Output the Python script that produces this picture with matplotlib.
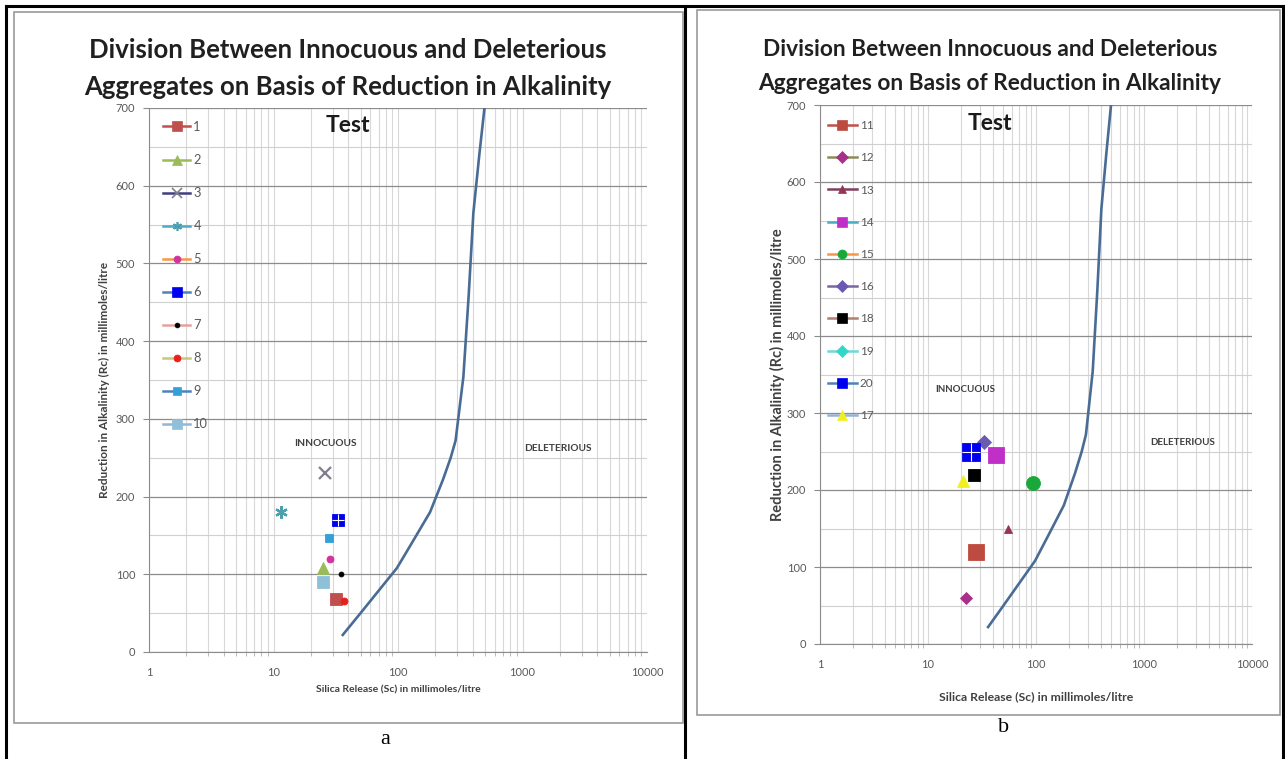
import matplotlib
matplotlib.use("Agg")
import matplotlib.pyplot as plt
from matplotlib.lines import Line2D
from matplotlib.patches import Rectangle
from matplotlib.ticker import MultipleLocator, LogLocator, NullFormatter

plt.rcParams['font.family'] = ['Lato', 'DejaVu Sans']

W, H = 1285, 759

# boundary curve (same in both panels)
curve_sc = [36, 50, 70, 98, 130, 181, 230, 265, 290, 310, 335, 370, 403, 450, 495]
curve_rc = [22, 50, 79, 108, 141, 180, 222, 250, 272, 310, 354, 460, 565, 640, 700]

# panel a samples
a_labels = ['1', '2', '3', '4', '5', '6', '7', '8', '9', '10']
a_sc = [[32], [25], [26], [11.5], [28.5], [33], [35], [37], [28], [25]]
a_rc = [[68], [108], [230], [180], [120], [170], [100], [65], [147], [90]]

# panel b samples (legend order as in the original)
b_labels = ['11', '12', '13', '14', '15', '16', '18', '19', '20', '17']
b_sc = [[28], [22.5], [55], [43], [93], [33], [26.5], [], [25], [21]]
b_rc = [[120], [60], [150], [245], [209], [262], [219], [], [250], [212]]

x_ticks = [1, 10, 100, 1000, 10000]
x_tick_labels = ['1', '10', '100', '1000', '10000']
y_ticks = [0, 100, 200, 300, 400, 500, 600, 700]

title_1 = 'Division Between Innocuous and Deleterious'
title_2 = 'Aggregates on Basis of Reduction in Alkalinity'
x_title = 'Silica Release (Sc) in millimoles/litre'
y_title = 'Reduction in Alkalinity (Rc) in millimoles/litre'

# (line colour, marker, marker colour, marker size)
a_styles = [
    ('#C0504D', 's', '#C0504D', 9),
    ('#9BBB59', '^', '#9BBB59', 9),
    ('#3F3F7F', 'x', '#7F7F8F', 9),
    ('#4BACC6', (6, 2, 0), '#4BA0B0', 9),
    ('#F79646', 'o', '#D2339C', 5),
    ('#4F81BD', 's', '#0000F0', 9),
    ('#E6A0A0', 'o', '#000000', 3.5),
    ('#C8C878', 'o', '#E8201A', 5),
    ('#4F81BD', 's', '#34A0D8', 6),
    ('#95B3D7', 's', '#8FC0D8', 9),
]
b_styles = [
    ('#C0504D', 's', '#BE4B40', 11),
    ('#8C8C5A', 'D', '#A8308A', 6),
    ('#7F3F5F', '^', '#953552', 6),
    ('#4BACC6', 's', '#C030C8', 11),
    ('#F79646', 'o', '#1AA83A', 10),
    ('#8064A2', 'D', '#6A5AB0', 7),
    ('#B08070', 's', '#000000', 8),
    ('#6FD8D8', 'D', '#30D8C8', 6),
    ('#4F81BD', 's', '#0000F0', 13),
    ('#95B3D7', '^', '#F0F020', 9),
]


def fx(px):
    return px / W


def fy(py):
    return 1 - py / H


def panel(fig, box, rect, cx, ty, tsize, labels, sc, rc, styles, leg_xy, leg_fs,
          leg_sp, leg_hl, test_xy, inn_xy, del_xy, tag_fs, ylab_x, ylab_fs,
          xlab_y, xlab_fs):
    # chart area frame
    fig.patches.append(Rectangle((fx(box[0]), fy(box[3])), fx(box[2] - box[0]),
                                 (box[3] - box[1]) / H, transform=fig.transFigure,
                                 fill=False, edgecolor='#9A9A9A', linewidth=1.2))
    ax = fig.add_axes([fx(rect[0]), fy(rect[3]), fx(rect[2] - rect[0]),
                       (rect[3] - rect[1]) / H])
    ax.set_xscale('log')
    ax.set_xlim(1, 10000)
    ax.set_ylim(0, 700)
    ax.set_xticks(x_ticks)
    ax.set_xticklabels(x_tick_labels)
    ax.xaxis.set_minor_locator(LogLocator(base=10, subs=range(2, 10)))
    ax.xaxis.set_minor_formatter(NullFormatter())
    ax.set_yticks(y_ticks)
    ax.yaxis.set_minor_locator(MultipleLocator(50))
    ax.grid(which='major', axis='y', color='#8C8C8C', linewidth=0.9)
    ax.grid(which='minor', axis='y', color='#D0D0D0', linewidth=0.8)
    ax.grid(which='both', axis='x', color='#D8D8D8', linewidth=0.8)
    ax.set_axisbelow(True)
    for s in ['top', 'right']:
        ax.spines[s].set_visible(False)
    for s in ['left', 'bottom']:
        ax.spines[s].set_color('#8C8C8C')
    ax.tick_params(which='major', axis='x', length=0, pad=11,
                   labelsize=8, labelcolor='#595959')
    ax.tick_params(which='minor', axis='x', length=3, color='#B0B0B0')
    ax.tick_params(which='major', axis='y', length=4, color='#8C8C8C',
                   labelsize=8, labelcolor='#595959', pad=6)
    ax.tick_params(which='minor', axis='y', length=0)

    ax.plot(curve_sc, curve_rc, color='#4A6C94', linewidth=1.9, zorder=3)

    handles = []
    for lab, x, y, (lc, mk, mc, ms) in zip(labels, sc, rc, styles):
        ax.plot(x, y, linestyle='none', marker=mk, markersize=ms,
                markerfacecolor=mc, markeredgecolor=mc,
                markeredgewidth=1.6 if mk in ('x', (6, 2, 0)) else 0.6, zorder=4)
        if mk == 's' and mc == '#0000F0':
            ax.plot(x, y, linestyle='none', marker='+', markersize=ms,
                    markeredgecolor='white', markeredgewidth=0.8, zorder=5)
        handles.append(Line2D([], [], color=lc, linewidth=1.8, marker=mk,
                              markersize=min(ms, 6.5), markerfacecolor=mc,
                              markeredgecolor=mc,
                              markeredgewidth=1.2 if mk in ('x', (6, 2, 0)) else 0.5))
    leg = fig.legend(handles, labels, loc='upper left',
                     bbox_to_anchor=(fx(leg_xy[0]), fy(leg_xy[1])),
                     frameon=False, fontsize=leg_fs, handlelength=leg_hl,
                     handletextpad=0.25, labelspacing=leg_sp, borderpad=0,
                     borderaxespad=0)
    for t in leg.get_texts():
        t.set_color('#595959')

    fig.text(fx(cx), fy(ty[0]), title_1, ha='center', va='center',
             fontsize=tsize, fontweight='bold', color='#202020')
    fig.text(fx(cx), fy(ty[1]), title_2, ha='center', va='center',
             fontsize=tsize, fontweight='bold', color='#202020')
    fig.text(fx(test_xy[0]), fy(test_xy[1]), 'Test', ha='center', va='center',
             fontsize=16.5, fontweight='bold', color='#1A1A1A')
    fig.text(fx(inn_xy[0]), fy(inn_xy[1]), 'INNOCUOUS', ha='center', va='center',
             fontsize=tag_fs, fontweight='bold', color='#404040')
    fig.text(fx(del_xy[0]), fy(del_xy[1]), 'DELETERIOUS', ha='center', va='center',
             fontsize=tag_fs, fontweight='bold', color='#404040')
    fig.text(fx(ylab_x), fy((rect[1] + rect[3]) / 2), y_title, rotation=90,
             ha='center', va='center', fontsize=ylab_fs, fontweight='bold',
             color='#404040')
    fig.text(fx((rect[0] + rect[2]) / 2), fy(xlab_y), x_title, ha='center',
             va='center', fontsize=xlab_fs, fontweight='bold', color='#404040')
    return ax


fig = plt.figure(figsize=(W / 100, H / 100), dpi=100)

panel(fig, (14, 12, 683, 723), (149, 108, 647, 652), 348, (50, 87), 18.5,
      a_labels, a_sc, a_rc, a_styles, (163, 121), 9.3, 1.63, 2.1,
      (348, 126), (325, 443), (558, 449), 7.3, 104, 8.5, 690, 7.5)
panel(fig, (697, 10, 1280, 715), (820, 105, 1252, 644), 990, (50, 83), 16.3,
      b_labels, b_sc, b_rc, b_styles, (828, 120), 8.5, 1.8, 2.45,
      (990, 123), (965, 390), (1183, 442), 7, 777, 10.5, 697, 8.8)

# table lines
lk = dict(color='black', linewidth=2.2, transform=fig.transFigure)
fig.add_artist(Line2D([fx(6), fx(1283)], [fy(6), fy(6)], **lk))
fig.add_artist(Line2D([fx(6), fx(6)], [fy(6), fy(758)], **lk))
fig.add_artist(Line2D([fx(685), fx(685)], [fy(6), fy(758)], **lk))
fig.add_artist(Line2D([fx(1283), fx(1283)], [fy(6), fy(758)], **lk))

fig.text(fx(385), fy(740), 'a', ha='center', va='center', fontsize=16,
         family='Liberation Serif')
fig.text(fx(1004), fy(727), 'b', ha='center', va='center', fontsize=16,
         family='Liberation Serif')

fig.savefig('out.png', dpi=100)
